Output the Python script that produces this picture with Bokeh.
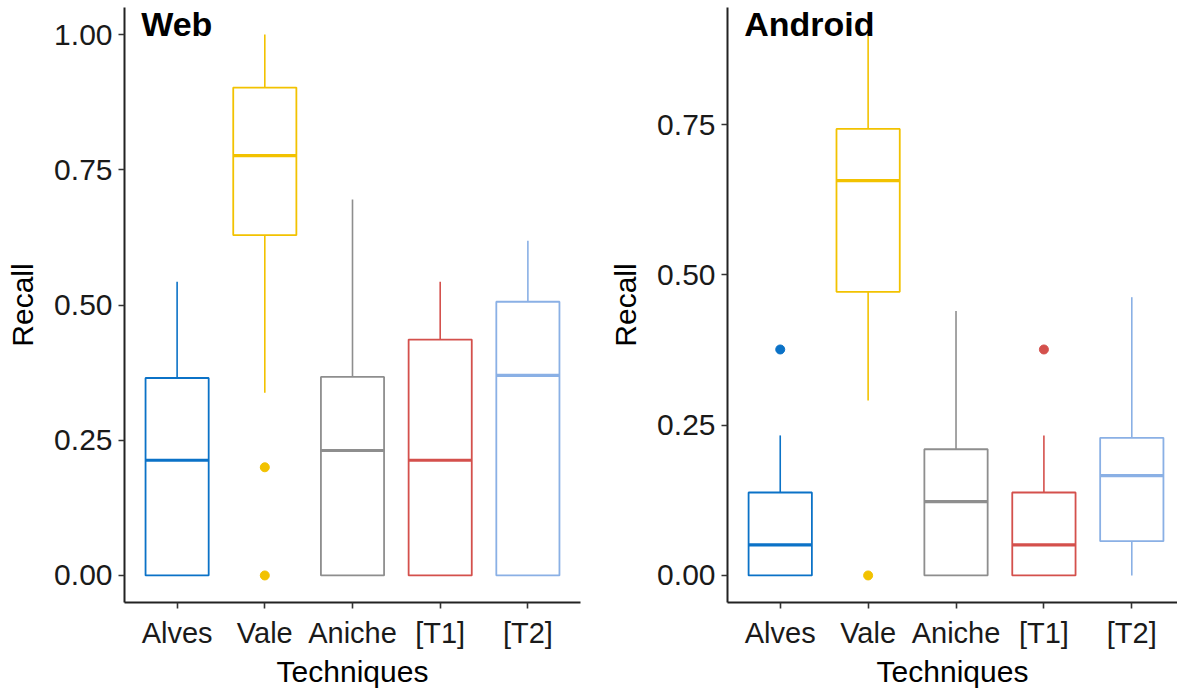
from bokeh.plotting import figure
from bokeh.layouts import row
from bokeh.models import Label, FixedTicker
from bokeh.embed import file_html
from bokeh.resources import INLINE

categories = ["Alves", "Vale", "Aniche", "[T1]", "[T2]"]
colors = ["#0B72C7", "#F2C200", "#8E8E8E", "#D4504C", "#8AB0E5"]

# Web panel box statistics
web_wlo = [0.0, 0.338, 0.0, 0.0, 0.0]
web_q1 = [0.0, 0.629, 0.0, 0.0, 0.0]
web_med = [0.213, 0.776, 0.231, 0.213, 0.370]
web_q3 = [0.365, 0.902, 0.367, 0.436, 0.506]
web_whi = [0.543, 1.0, 0.695, 0.543, 0.619]
web_out_cat = ["Vale", "Vale"]
web_out_val = [0.2, 0.0]

# Android panel box statistics
and_wlo = [0.0, 0.291, 0.0, 0.0, 0.0]
and_q1 = [0.0, 0.472, 0.0, 0.0, 0.057]
and_med = [0.051, 0.657, 0.123, 0.051, 0.166]
and_q3 = [0.138, 0.743, 0.210, 0.138, 0.229]
and_whi = [0.233, 0.901, 0.440, 0.233, 0.463]
and_out_cat = ["Alves", "Vale", "[T1]"]
and_out_val = [0.376, 0.0, 0.376]

web_ticks = [0.0, 0.25, 0.5, 0.75, 1.0]
and_ticks = [0.0, 0.25, 0.5, 0.75]

FONT = "Liberation Sans"
BOX_HALF = 0.36


def panel(title, wlo, q1, med, q3, whi, out_cat, out_val, yticks, yr, xr, width, border_left, border_right):
    p = figure(width=width, height=690, x_range=xr, y_range=yr,
               output_backend="svg", toolbar_location=None,
               min_border_left=border_left, min_border_right=border_right,
               min_border_top=7, min_border_bottom=88)
    p.outline_line_color = None
    p.xgrid.visible = False
    p.ygrid.visible = False
    p.background_fill_color = "white"
    p.border_fill_color = "white"

    xs = [i + 1 for i in range(len(categories))]
    pos = {c: i + 1 for i, c in enumerate(categories)}

    # whiskers
    p.segment(x0=xs, y0=q3, x1=xs, y1=whi, line_color=colors, line_width=1.6)
    p.segment(x0=xs, y0=wlo, x1=xs, y1=q1, line_color=colors, line_width=1.6)
    # boxes
    p.quad(left=[x - BOX_HALF for x in xs], right=[x + BOX_HALF for x in xs],
           bottom=q1, top=q3, fill_color="white", fill_alpha=1.0,
           line_color=colors, line_width=1.8)
    # medians
    p.segment(x0=[x - BOX_HALF for x in xs], y0=med, x1=[x + BOX_HALF for x in xs], y1=med,
              line_color=colors, line_width=3.2)
    # outliers
    ox = [pos[c] for c in out_cat]
    oc = [colors[categories.index(c)] for c in out_cat]
    p.scatter(x=ox, y=out_val, size=9, fill_color=oc, line_color=oc)

    p.xaxis.ticker = FixedTicker(ticks=xs)
    p.xaxis.major_label_overrides = {x: c for x, c in zip(xs, categories)}
    p.yaxis.ticker = FixedTicker(ticks=yticks)
    p.yaxis.major_label_overrides = {t: f"{t:.2f}" for t in yticks}
    p.xaxis.axis_label = "Techniques"
    p.yaxis.axis_label = "Recall"
    for ax in (p.xaxis[0], p.yaxis[0]):
        ax.axis_line_color = "#222222"
        ax.axis_line_width = 2
        ax.major_tick_line_color = "#333333"
        ax.major_tick_line_width = 1.6
        ax.major_tick_out = 6
        ax.major_tick_in = 0
        ax.minor_tick_out = 0
        ax.minor_tick_in = 0
        ax.major_label_text_font = FONT
        ax.major_label_text_color = "#1a1a1a"
        ax.axis_label_text_font = FONT
        ax.axis_label_text_font_size = "30px"
        ax.axis_label_text_font_style = "normal"
        ax.axis_label_text_color = "black"
    p.xaxis.major_label_text_font_size = "29px"
    p.yaxis.major_label_text_font_size = "30px"
    p.xaxis.major_label_standoff = 8
    p.xaxis.axis_label_standoff = 3
    p.yaxis.major_label_standoff = 6
    p.yaxis.axis_label_standoff = 12

    lab = Label(x=xr[0] + 0.19, y=yr[1] - 0.027 * (yr[1] - yr[0]),
                text=title, text_font=FONT, text_font_size="34px",
                text_font_style="bold", text_color="black",
                text_baseline="alphabetic", text_align="left")
    p.add_layout(lab)
    return p


p1 = panel("Web", web_wlo, web_q1, web_med, web_q3, web_whi, web_out_cat, web_out_val,
           web_ticks, (-0.05, 1.05), (0.4, 5.6), 590, 124, 10)
p2 = panel("Android", and_wlo, and_q1, and_med, and_q3, and_whi, and_out_cat, and_out_val,
           and_ticks, (-0.045, 0.945), (0.4, 5.52), 587, 137, 0)

layout = row(p1, p2)
open("out.html", "w").write(file_html(layout, INLINE))
